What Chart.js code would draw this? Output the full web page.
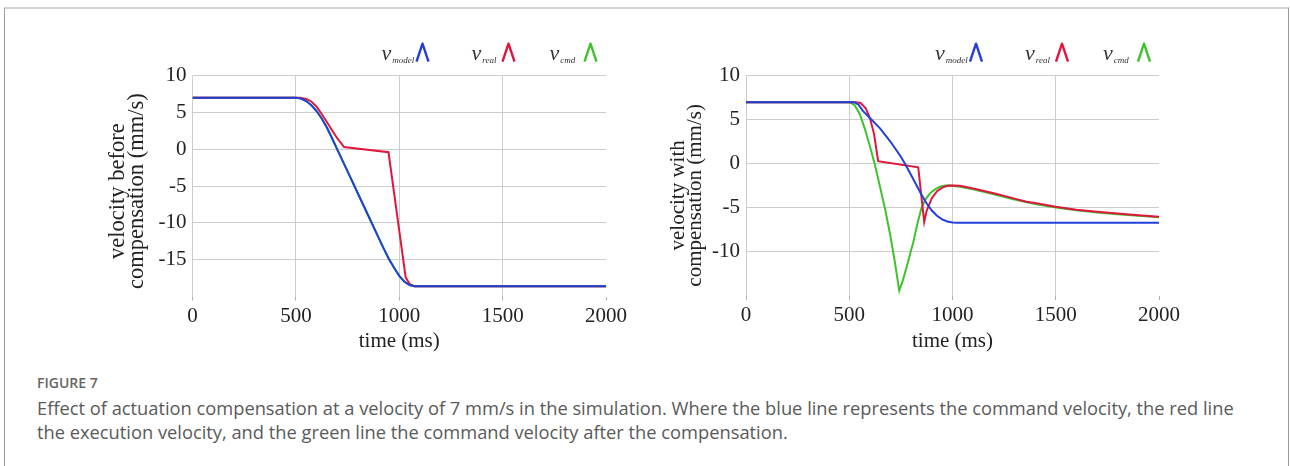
<!DOCTYPE html>
<html><head><meta charset="utf-8">
<script src="https://cdn.jsdelivr.net/npm/chart.js@4.4.1/dist/chart.umd.min.js"></script>
<style>
html,body{margin:0;padding:0;background:#fff;}
body{width:1290px;height:466px;overflow:hidden;position:relative;font-family:"Open Sans",sans-serif;}
.frame{position:absolute;left:4px;top:7px;width:1283px;height:480px;border-top:2px solid #d3d3d3;border-left:1px solid #9a9a9a;border-right:1px solid #9a9a9a;}
canvas{position:absolute;}
#c1{left:95px;top:30px;}
#c2{left:650px;top:30px;}
.fig{position:absolute;left:37px;top:373px;font-size:14px;color:#666;font-weight:600;white-space:nowrap;}
.cap{position:absolute;left:37px;top:396px;font-size:18.3px;line-height:24px;color:#5a5a5a;white-space:nowrap;}
</style></head>
<body>
<div class="frame"></div>
<canvas id="c1" width="540" height="330"></canvas>
<canvas id="c2" width="540" height="330"></canvas>
<div class="fig">FIGURE 7</div>
<div class="cap">Effect of actuation compensation at a velocity of 7 mm/s in the simulation. Where the blue line represents the command velocity, the red line<br>the execution velocity, and the green line the command velocity after the compensation.</div>
<script>
// ---- data (time in ms, velocity in mm/s) ----
const xTicks = [0, 500, 1000, 1500, 2000];
const leftYTicks = [10, 5, 0, -5, -10, -15];
const rightYTicks = [10, 5, 0, -5, -10];

// left panel: before compensation
const leftModelT = [0,500,525,550,575,600,625,650,675,700,750,800,850,900,925,950,975,1000,1025,1050,1075,2000];
const leftModelV = [7,7,6.89,6.55,5.99,5.2,4.19,2.95,1.5,0,-3.0,-6.0,-9.0,-12.0,-13.5,-14.9,-16.1,-17.2,-18.0,-18.45,-18.6,-18.6];
const leftRealT = [0,520,550,575,600,625,650,675,700,725,733,948,1031,1050,1070,2000];
const leftRealV = [7,7,6.85,6.5,5.8,4.8,3.7,2.6,1.5,0.6,0.3,-0.4,-17.4,-18.3,-18.6,-18.6];
const leftCmdT = leftModelT;
const leftCmdV = leftModelV;

// right panel: with compensation
const rightModelT = [0,525,545,566,600,650,700,750,770,800,850,875,900,925,950,975,1000,1025,1050,2000];
const rightModelV = [7,7,6.7,6.0,5.2,4.0,2.5,0.8,0,-1.3,-3.5,-4.5,-5.3,-5.9,-6.3,-6.55,-6.65,-6.7,-6.7,-6.7];
const rightRealT = [0,530,555,580,600,620,640,834,863,875,900,925,950,975,1000,1036,1100,1200,1300,1358,1400,1500,1600,1700,1800,1900,2000];
const rightRealV = [7,7,6.9,6.3,5.2,3.4,0.3,-0.4,-6.6,-5.3,-3.9,-3.1,-2.7,-2.5,-2.45,-2.5,-2.8,-3.35,-3.95,-4.3,-4.45,-4.87,-5.2,-5.45,-5.65,-5.85,-6.0];
const rightCmdT = [0,500,525,552,575,600,625,649,675,697,720,742,760,778,795,810,830,850,870,891,915,939,965,990,1036,1100,1200,1300,1400,1500,1600,1700,1800,1900,2000];
const rightCmdV = [7,7,6.7,5.6,4.0,2.0,-0.2,-2.6,-5.3,-7.9,-11.0,-14.4,-13.2,-11.7,-10.2,-8.9,-6.8,-5.0,-4.0,-3.35,-2.9,-2.6,-2.45,-2.45,-2.6,-2.9,-3.45,-4.05,-4.55,-4.95,-5.27,-5.52,-5.72,-5.9,-6.05];

const seriesNames = ['model', 'real', 'cmd'];
const BLUE = '#2240d8', RED = '#e0163c', GREEN = '#3cc42a';
const seriesColors = [BLUE, RED, GREEN];

const zip = (t, v) => t.map((x, i) => ({x, y: v[i]}));
const SERIF = '"Liberation Serif","Times New Roman",serif';

const legendPlugin = {
  id: 'subLegend',
  afterDraw(chart) {
    const {ctx, chartArea} = chart;
    const vX = [189, 279, 357], iX = [224, 310, 392];
    const base = chartArea.top - 16;
    ctx.save();
    seriesNames.forEach((n, i) => {
      const x = chartArea.left + vX[i];
      ctx.fillStyle = '#333';
      ctx.textBaseline = 'alphabetic';
      ctx.textAlign = 'left';
      ctx.font = 'italic 22px ' + SERIF;
      ctx.fillText('v', x, base);
      const w = ctx.measureText('v').width;
      ctx.font = 'italic 9px ' + SERIF;
      ctx.fillText(n, x + w + 1, base + 3);
      const ix = chartArea.left + iX[i];
      ctx.strokeStyle = seriesColors[i];
      ctx.lineWidth = 2.4;
      ctx.lineJoin = 'round';
      ctx.beginPath();
      ctx.moveTo(ix, base + 2);
      ctx.lineTo(ix + 6, base - 16);
      ctx.lineTo(ix + 12, base + 2);
      ctx.stroke();
    });
    ctx.restore();
  }
};

const yTitlePlugin = {
  id: 'yTitle',
  afterDraw(chart, args, opts) {
    const {ctx, chartArea} = chart;
    ctx.save();
    ctx.translate(chartArea.left - opts.dx, (chartArea.top + chartArea.bottom) / 2 + opts.dy);
    ctx.rotate(-Math.PI / 2);
    ctx.font = opts.size + 'px ' + SERIF;
    ctx.fillStyle = '#222';
    ctx.textAlign = 'center';
    ctx.textBaseline = 'middle';
    opts.lines.forEach((l, i) => ctx.fillText(l, 0, i * opts.lh));
    ctx.restore();
  }
};

function makeChart(id, datasets, yMin, yTickList, pad, yWidth, titleOpts) {
  return new Chart(document.getElementById(id), {
    type: 'line',
    data: {datasets},
    plugins: [legendPlugin, yTitlePlugin],
    options: {
      responsive: false,
      animation: false,
      devicePixelRatio: 1,
      layout: {padding: pad},
      elements: {point: {radius: 0}, line: {tension: 0, borderWidth: 2}},
      plugins: {legend: {display: false}, tooltip: {enabled: false}, yTitle: titleOpts},
      scales: {
        x: {
          type: 'linear', min: xTicks[0], max: xTicks[xTicks.length - 1],
          afterBuildTicks: s => { s.ticks = xTicks.map(v => ({value: v})); },
          afterFit: s => { s.height = 60; },
          border: {display: false},
          grid: {
            color: c => (c.tick && c.tick.value === 2000) ? 'rgba(0,0,0,0)' : '#cdcdcd',
            tickColor: '#b0b0b0', tickLength: 4, lineWidth: 1
          },
          ticks: {color: '#222', padding: 3, font: {family: SERIF, size: 21}, callback: v => String(v)},
          title: {display: true, text: 'time (ms)', color: '#222', font: {family: SERIF, size: 21}, padding: {top: 0, bottom: 2}}
        },
        y: {
          type: 'linear', min: yMin, max: 10,
          afterBuildTicks: s => { s.ticks = [yMin].concat(yTickList.slice().reverse()).map(v => ({value: v})); },
          afterFit: s => { s.width = yWidth; },
          border: {display: false},
          grid: {
            color: c => (c.tick && c.tick.value === yMin) ? 'rgba(0,0,0,0)' : '#cdcdcd',
            drawTicks: false, lineWidth: 1
          },
          ticks: {color: '#222', padding: 6, font: {family: SERIF, size: 21},
                  callback: v => (yTickList.includes(v) ? String(v) : '')}
        }
      }
    }
  });
}

const ds = (t, v, c) => ({data: zip(t, v), borderColor: c, backgroundColor: c, borderWidth: 2, pointRadius: 0, fill: false});

makeChart('c1', [
  ds(leftModelT, leftModelV, BLUE),
  ds(leftRealT, leftRealV, RED),
  ds(leftCmdT, leftCmdV, GREEN)
], -20, leftYTicks, {top: 45.7, right: 29, bottom: 3.5, left: 0}, 97.5,
  {dx: 74.5, dy: 5, size: 22.5, lh: 19.5, lines: ['velocity before', 'compensation (mm/s)']});

makeChart('c2', [
  ds(rightModelT, rightModelV, BLUE),
  ds(rightRealT, rightRealV, RED),
  ds(rightCmdT, rightCmdV, GREEN)
], -15, rightYTicks, {top: 45.7, right: 31, bottom: 4, left: 0}, 96,
  {dx: 67.7, dy: 9.5, size: 21, lh: 17, lines: ['velocity with', 'compensation (mm/s)']});
</script>
</body></html>
